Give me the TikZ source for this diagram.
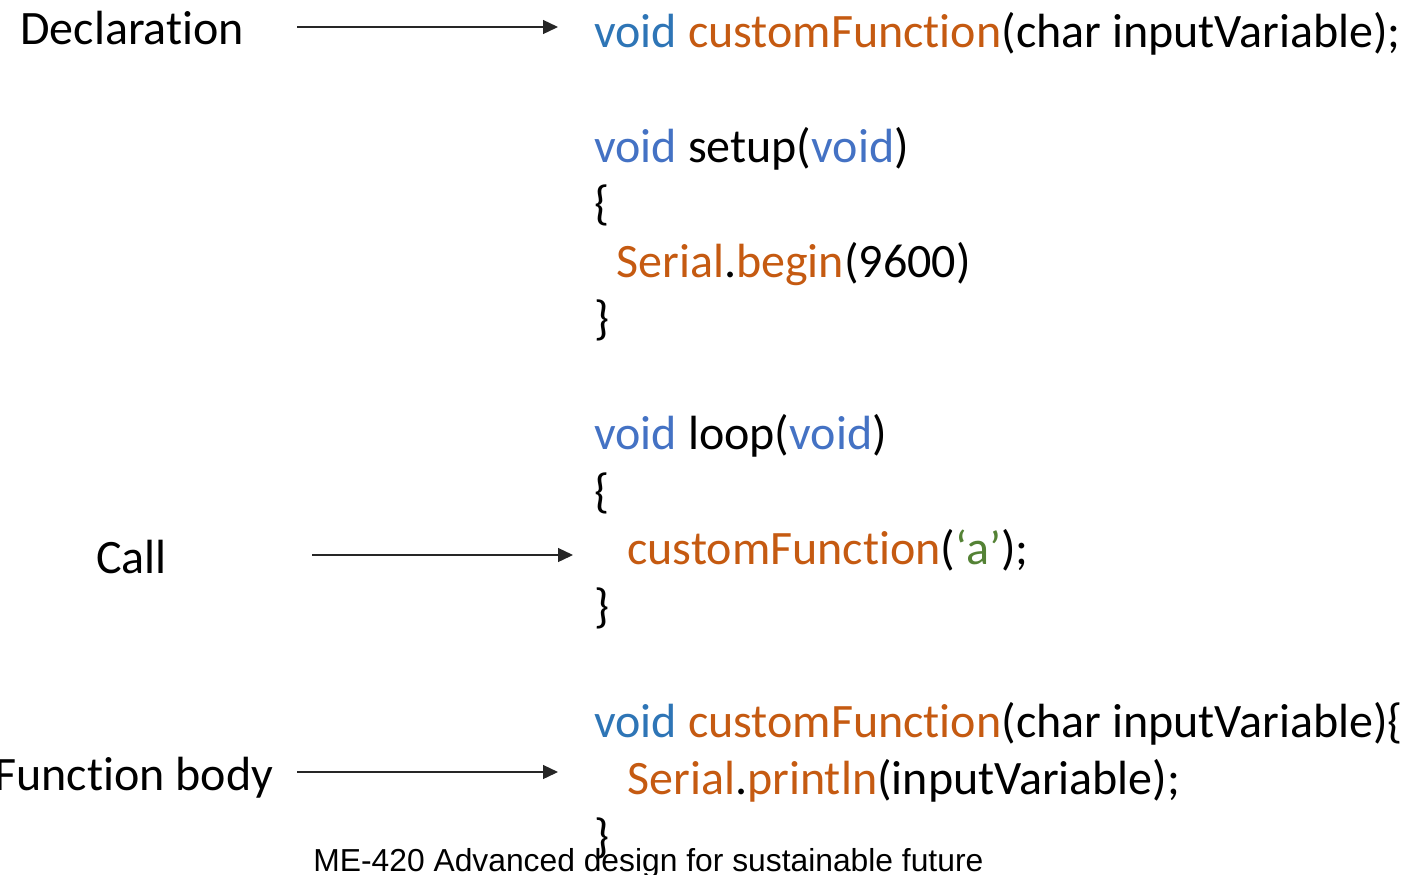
\documentclass[tikz,border=0pt]{standalone}
\usepackage{fontspec}
\setmainfont{Carlito}[Ligatures={NoCommon}]
\newfontfamily\footfont{Liberation Sans}
\usetikzlibrary{arrows.meta}
\definecolor{kwA}{HTML}{2E75B6}
\definecolor{kwB}{HTML}{4472C4}
\definecolor{fn}{HTML}{C55A11}
\definecolor{str}{HTML}{548235}
\tikzset{
  code/.style={anchor=base west, inner sep=0pt, font=\fontsize{24pt}{28.8pt}\selectfont},
  lbl/.style={anchor=base west, inner sep=0pt, font=\fontsize{24pt}{28.8pt}\selectfont},
  arr/.style={line width=0.65pt, draw=black!85, -{Triangle[length=7.5pt,width=7pt]}},
  foot/.style={anchor=base west, inner sep=0pt, font=\footfont\fontsize{15.9pt}{19pt}\selectfont}
}
\begin{document}
\begin{tikzpicture}[x=0.5pt,y=-0.5pt]
\useasboundingbox (0,0) rectangle (1408,874);
% labels
\node[lbl] (decl) at (20,44) {Declaration};
\node[lbl] (call) at (96,573) {Call};
\node[lbl] (body) at (-6,790) {Function body};
% code
\node[code] (l1) at (594,47) {\textcolor{kwA}{void} \textcolor{fn}{customFunction}(char inputVariable);};
\node[code] (l2) at (594,162) {\textcolor{kwB}{void} setup(\textcolor{kwB}{void})};
\node[code] (l3) at (594,219.5) {\{};
\node[code] (l4) at (616,277) {\textcolor{fn}{Serial}.\textcolor{fn}{begin}(9600)};
\node[code] (l5) at (594,334.5) {\}};
\node[code] (l6) at (594,449.5) {\textcolor{kwB}{void} loop(\textcolor{kwB}{void})};
\node[code] (l7) at (594,507) {\{};
\node[code] (l8) at (627,564.5) {\textcolor{fn}{customFunction}(\textcolor{str}{‘a’});};
\node[code] (l9) at (594,622) {\}};
\node[code] (l10) at (594,737) {\textcolor{kwA}{void} \textcolor{fn}{customFunction}(char inputVariable)\{};
\node[code] (l11) at (627,794.5) {\textcolor{fn}{Serial}.\textcolor{fn}{println}(inputVariable);};
\node[code] (l12) at (594,852) {\}};
% footer
\node[foot] (ft) at (313,871) {ME-420 Advanced design for sustainable future};
% arrows
\coordinate (a1s) at (297,27); \coordinate (a1e) at (558,27);
\coordinate (a2s) at (312,555); \coordinate (a2e) at (573,555);
\coordinate (a3s) at (297,772); \coordinate (a3e) at (558,772);
\draw[arr] (a1s) -- (a1e);
\draw[arr] (a2s) -- (a2e);
\draw[arr] (a3s) -- (a3e);
\end{tikzpicture}
\end{document}
